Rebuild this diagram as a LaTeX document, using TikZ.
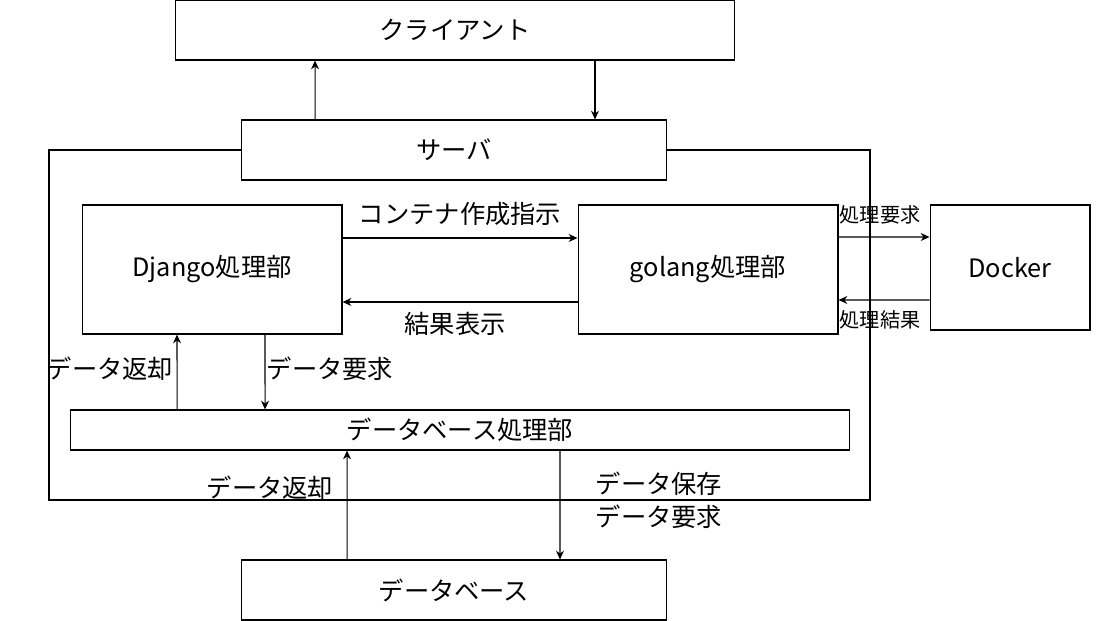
\documentclass[tikz,border=0pt]{standalone}
\usepackage{fontspec}
\setmainfont{Noto Sans CJK JP}
\usetikzlibrary{arrows.meta}

\tikzset{
  box/.style={draw, line width=0.6pt, fill=white, inner sep=0pt},
  arr/.style={line width=0.6pt, -{Stealth[length=5pt,width=4.5pt]}},
  lbl/.style={inner sep=0pt, font=\fontsize{14.4}{17}\selectfont},
  small/.style={inner sep=0pt, font=\fontsize{11.5}{14}\selectfont}
}

\begin{document}
\begin{tikzpicture}[x=0.02cm,y=-0.02cm]
    \useasboundingbox (0,0) rectangle (1101,621);
    % server frame
    \draw[line width=0.6pt] (49,150) rectangle (870,500);

    \node[box,lbl,minimum width=11.2cm,minimum height=1.2cm] (client) at (455,30) {クライアント};
    \node[box,lbl,minimum width=8.52cm,minimum height=1.2cm] (server) at (454,150) {サーバ};
    \node[box,lbl,minimum width=5.2cm,minimum height=2.58cm] (django) at (212,269.5) {Django処理部};
    \node[box,lbl,minimum width=5.2cm,minimum height=2.58cm] (golang) at (708,269.5) {golang処理部};
    \node[box,lbl,minimum width=3.2cm,minimum height=2.5cm] (docker) at (1010,267.5) {Docker};
    \node[box,lbl,minimum width=15.6cm,minimum height=0.8cm] (dbproc) at (460,430) {データベース処理部};
    \node[box,lbl,minimum width=8.52cm,minimum height=1.2cm] (db) at (454,590) {データベース};

    % client <-> server
    \draw[arr] ([xshift=-2.78cm]server.north) -- ([xshift=-2.8cm]client.south);
    \draw[arr] ([xshift=2.8cm]client.south) -- ([xshift=2.82cm]server.north);

    % django <-> golang
    \draw[arr] ([yshift=0.63cm]django.east) -- ([yshift=0.63cm]golang.west);
    \draw[arr] ([yshift=-0.65cm]golang.west) -- ([yshift=-0.65cm]django.east);
    \node[lbl] (order) at (460,214) {コンテナ作成指示};
    \node[lbl] (show) at (455,324) {結果表示};

    % golang <-> docker
    \draw[arr] ([yshift=0.65cm]golang.east) -- ([yshift=0.61cm]docker.west);
    \draw[arr] ([yshift=-0.65cm]docker.west) -- ([yshift=-0.61cm]golang.east);
    \node[small] (req) at (880,215) {処理要求};
    \node[small] (res) at (880,320) {処理結果};

    % django <-> dbproc
    \draw[arr] ([xshift=-5.66cm]dbproc.north) -- ([xshift=-0.7cm]django.south);
    \draw[arr] ([xshift=1.06cm]django.south) -- ([xshift=-3.9cm]dbproc.north);
    \node[lbl] (ret1) at (110,369) {データ返却};
    \node[lbl] (req1) at (330,369) {データ要求};

    % dbproc <-> db
    \draw[arr] ([xshift=-2.14cm]db.north) -- ([xshift=-2.26cm]dbproc.south);
    \draw[arr] ([xshift=2.0cm]dbproc.south) -- ([xshift=2.12cm]db.north);
    \node[lbl] (ret2) at (270,488) {データ返却};
    \node[lbl,align=left] (save) at (659,500) {データ保存\\[2pt]データ要求};
\end{tikzpicture}
\end{document}
